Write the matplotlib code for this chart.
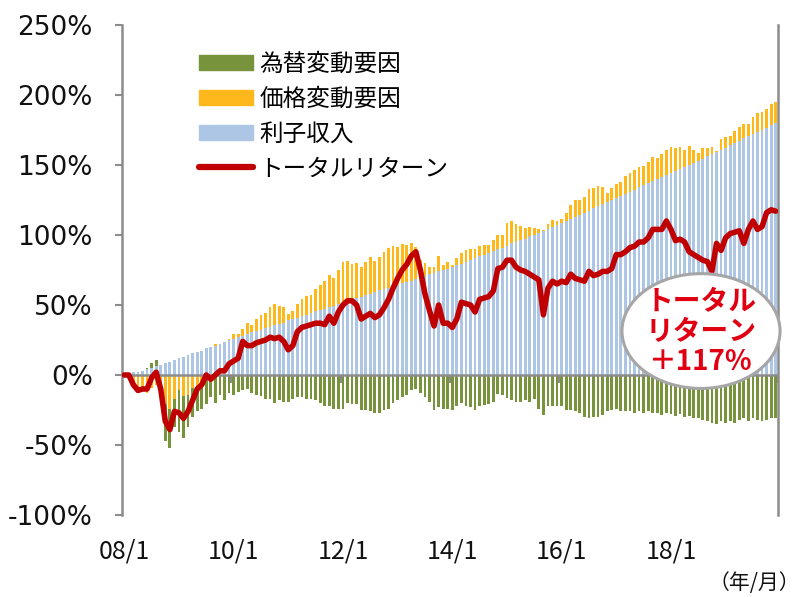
import numpy as np
import matplotlib
matplotlib.use("Agg")
import matplotlib.pyplot as plt
from matplotlib.patches import Patch, Ellipse
from matplotlib.lines import Line2D

plt.rcParams["font.family"] = ["DejaVu Sans", "Noto Sans CJK JP"]
JP = ["Noto Sans CJK JP", "DejaVu Sans"]

# monthly data, 2008/1 - 2019/12 (%)
interest = [
    0, 1, 2, 2.5, 3, 4, 5, 6.5, 7.5,
    8.5, 9.5, 11, 12, 13, 14, 15.5, 16.5, 17.5, 19, 20, 21, 22.5, 23.5, 25,
    26, 27, 28, 29, 30.5, 31.5, 32.5, 33.5, 34.5, 35.5, 36.5, 37.5, 39, 40, 41, 42,
    43, 44, 45.5, 46.5, 47.5, 48.5, 49.5, 51, 52,
    53, 54, 55, 56, 57, 58, 59.5, 60.5, 61.5, 62.5, 63.5, 64.5, 65.5, 66.5, 67.5,
    68.5, 69.5, 70.5, 72, 73, 74, 75, 76, 77,
    78.5, 79.5, 81, 82, 83.5, 85, 86, 87.5, 88.5, 90, 91, 92.5, 94, 95, 96.5, 97.5,
    99, 100, 101.5, 103, 104, 105.5, 107,
    108.5, 110, 111.5, 113, 114.5, 116, 117.5, 119, 120.5, 122, 123.5, 125, 126.5,
    128, 129.5, 131, 132.5, 134, 135.5, 137, 138.5, 140, 141.5, 143, 144,
    145.5, 147, 148.5, 150, 151.5, 153, 154.5, 156.5, 158, 159.5, 161, 162.5, 164,
    165.5, 167.5, 169, 170.5, 172, 173.5, 175, 176.5, 178.5, 180,
]
price = [
    0, -2, -8, -11, -9, -13, -9, -7, -5, -21, -24, -17, -11, -15, -14, -9, -8, -6,
    -3, -2, 1, 0, 0,
    1, 3, 2, 5, 8, 5, 8.5, 10.5, 10.5, 14, 15, 13, 11, 4.5, 6, 9.5, 12, 13.5, 13.5,
    16, 18, 20, 23, 20, 24, 29,
    28.5, 25.5, 25, 21, 23.5, 26.5, 22, 24, 26, 28.5, 29, 27, 28, 26, 26.5, 23, 13,
    9.5, 5, 4.5, 11, 3.5, 4.5, 1.5,
    4.8, 7.9, 8.3, 8, 6.5, 7.1, 6.9, 5.4, 7.9, 10, 9, 15.8, 16.2, 12.6, 9.9, 7.3, 7,
    5.2, 2.8, 0.6, 3.6, 5.2, 3, 3,
    5.5, 9.9, 12, 10.5, 11.4, 15.1, 14.3, 14.5, 12.3, 6.7, 8.3, 9.7, 10.1, 12.6, 13,
    13.9, 14.8, 14, 15.4, 17, 14.8, 16.1, 17.7, 19,
    16.5, 16, 12.5, 13.6, 9.5, 5.3, 7.5, 5.5, 4.6, 0.5, 7.3, 7.7, 6.7, 8.8, 9.9, 10,
    8.5, 12.5, 13.5, 13, 13.3, 15.1, 15.2,
]
fx = [
    0, 0, -1, -2, -1, 1, 3.5, 4, -2, -26, -28, -20, -30, -30, -23, -21, -18, -18,
    -18, -14, -20, -14, -18,
    -13, -14, -12, -11, -10, -13, -14, -15, -17, -17, -20, -18, -19, -19, -17,
    -15.5, -15.5, -17, -17, -18, -20, -22, -22, -24, -24, -24,
    -20, -21, -21, -25, -25, -26, -27, -27, -25, -24, -20, -18, -15.5, -14, -11,
    -10, -13, -15.5, -19, -25, -23, -24, -24, -25,
    -22, -20, -22, -22.6, -25, -22, -21.4, -20.7, -19, -13.6, -14.3, -16.7, -17.9,
    -19, -19, -17.9, -19, -17.4, -24, -28.6, -22, -22, -22, -22,
    -25, -25, -26, -27.4, -29.8, -31, -30, -29.8, -28.6, -26, -25, -24.5, -25.7,
    -25.7, -26, -27, -25.7, -27, -26, -27.4, -27.4, -28.6, -27.4,
    -28, -29, -28, -30, -29, -31, -31, -32, -33, -34, -35, -33, -34, -33, -34, -32,
    -31, -33, -31, -32, -33, -32, -31, -31,
]
total = [
    0, 0, -7, -11, -10, -10, -2, 2, -10, -33, -39, -26, -27, -31, -26, -18, -10,
    -7, 0, -3, 0, 3, 3, 8,
    10, 12, 24, 21, 21, 23, 24, 25, 27, 26, 27, 24, 18, 21, 31, 34, 35, 36, 37, 37,
    36, 42, 37, 45, 50,
    53, 53, 50, 40, 42, 44, 41, 43, 48, 54, 62, 69, 75, 79, 85, 88, 75, 58, 46, 35,
    50, 37, 37, 34,
    40, 52, 51, 50, 45, 54, 55, 56, 60, 76, 77, 82, 82, 77, 75, 74, 72, 70, 68, 43,
    62, 67, 65, 67,
    66, 72, 69, 68, 67, 74, 71, 72, 74, 74, 76, 86, 86, 88, 91, 92, 95, 95, 98, 104,
    104, 104,
    110, 104, 96, 97, 95, 88, 86, 84, 82, 81, 74, 94, 89, 98, 101, 102, 103, 94, 104,
    110, 104, 106, 116, 118, 117,
]
tick_labels = ["08/1", "10/1", "12/1", "14/1", "16/1", "18/1"]
y_ticks = [-100, -50, 0, 50, 100, 150, 200, 250]

GREEN = "#77933C"
ORANGE = "#FFB81C"
BLUE = "#ADC6E5"
RED = "#C00000"
GRAY = "#8C8C8C"

x = np.arange(len(total))
blue = np.array(interest, dtype=float)
pr = np.array(price, dtype=float)
fxa = np.array(fx, dtype=float)
pp, pn = np.clip(pr, 0, None), np.clip(pr, None, 0)
fp, fn = np.clip(fxa, 0, None), np.clip(fxa, None, 0)

fig = plt.figure(figsize=(8.01, 5.97), dpi=100)
ax = fig.add_axes([122 / 801, 82 / 597, 656 / 801, 490 / 597])

w = 0.62
ax.bar(x, blue, width=w, color=BLUE, zorder=2)
ax.bar(x, pp, bottom=blue, width=w, color=ORANGE, zorder=2)
ax.bar(x, pn, width=w, color=ORANGE, zorder=2)
ax.bar(x, fp, bottom=blue + pp, width=w, color=GREEN, zorder=2)
ax.bar(x, fn, bottom=pn, width=w, color=GREEN, zorder=2)

# zero line with category ticks
ax.axhline(0, color=GRAY, lw=1.8, zorder=3)
for b in np.arange(-0.5, len(x), 24):
    ax.plot([b, b], [0, -5.5], color=GRAY, lw=1.5, zorder=3, solid_capstyle="butt")

ax.plot(x, total, color=RED, lw=4, solid_joinstyle="round",
        solid_capstyle="round", zorder=4)

ax.set_xlim(-0.5, len(x) - 0.5)
ax.set_ylim(-100, 250)
ax.set_yticks(y_ticks)
ax.set_yticklabels([f"{v}%" for v in y_ticks], fontsize=19, color="#111111")
ax.set_xticks(x[::24])
ax.set_xticklabels(tick_labels, fontsize=18, family=JP, color="#111111")
ax.tick_params(axis="x", length=0, pad=17)
ax.tick_params(axis="y", direction="out", length=5, width=1.5, color=GRAY, pad=16)

for s in ("top", "bottom"):
    ax.spines[s].set_visible(False)
for s in ("left", "right"):
    ax.spines[s].set_color(GRAY)
    ax.spines[s].set_linewidth(1.8)

handles = [
    Patch(color=GREEN, label="為替変動要因"),
    Patch(color=ORANGE, label="価格変動要因"),
    Patch(color=BLUE, label="利子収入"),
    Line2D([0], [0], color=RED, lw=4.5, solid_capstyle="round", label="トータルリターン"),
]
ax.legend(handles=handles, loc="upper left", bbox_to_anchor=(0.1, 0.967),
          frameon=False, prop={"family": JP, "size": 17}, handlelength=2.25,
          handleheight=0.6, handletextpad=0.3, labelspacing=0.5, borderpad=0)

ell = Ellipse((126.6, 31.4), 34.7, 82, facecolor="white", edgecolor="#A6A6A6",
              lw=2.2, zorder=5, clip_on=False)
ax.add_patch(ell)
ax.text(126.6, 30.5, "トータル\nリターン\n＋117%", ha="center", va="center",
        color="#E00012", fontsize=20, fontweight="bold", family=JP,
        linespacing=1.1, zorder=6)

fig.text(800 / 801, 1 - 583 / 597, "（年/月）", ha="right", va="center",
         fontsize=15, family=JP, color="#111111")

fig.savefig("out.png", dpi=100)
